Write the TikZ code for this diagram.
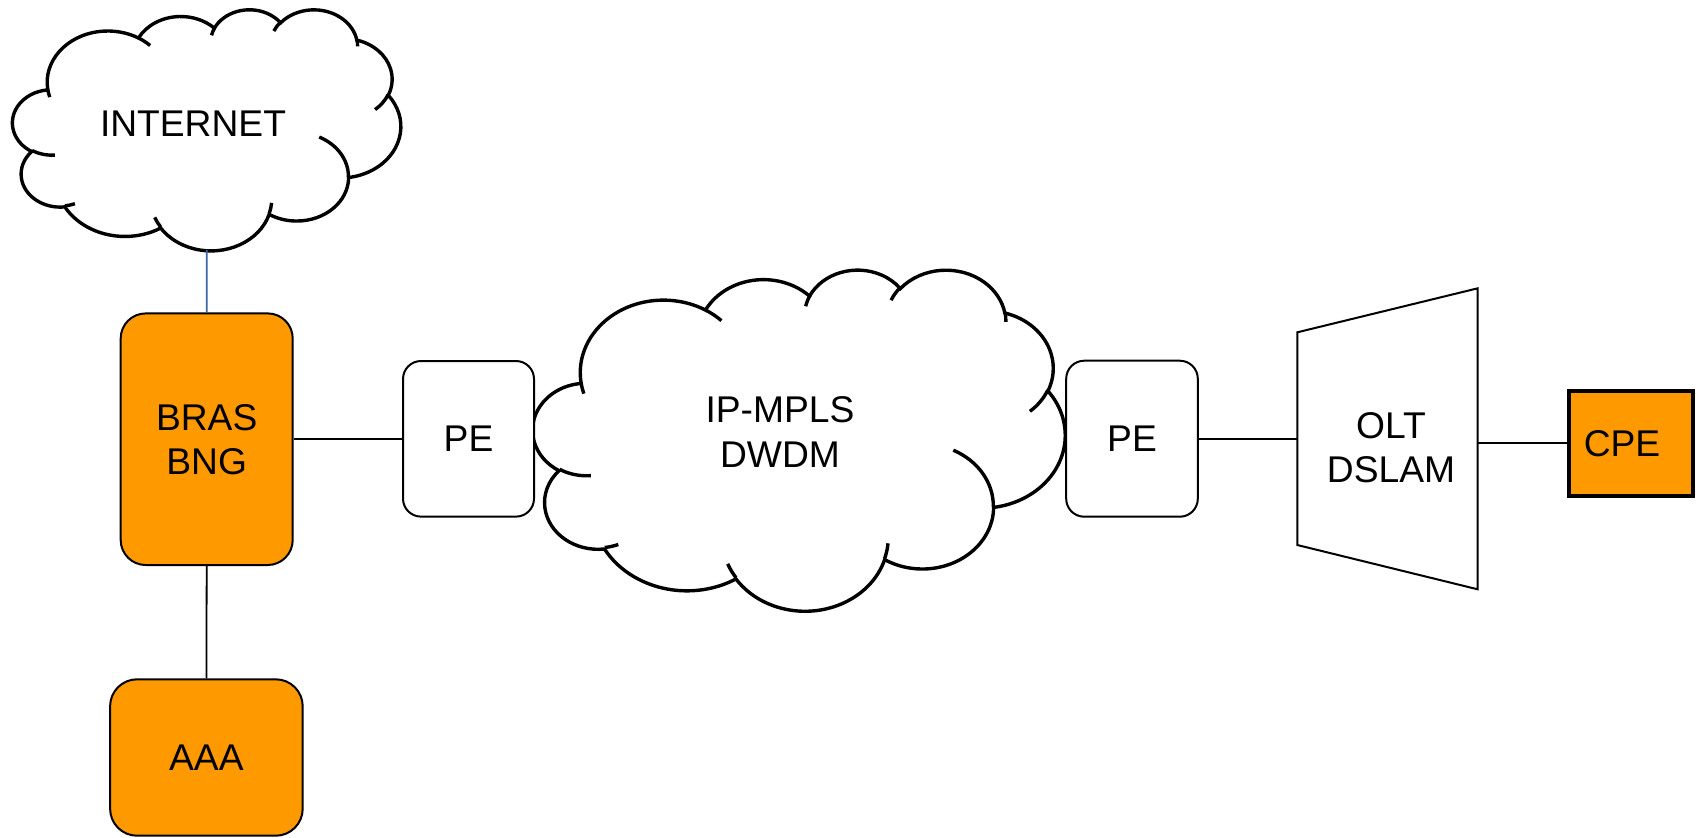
\documentclass[tikz,border=0pt]{standalone}
\usepackage{fontspec}
\setmainfont{Liberation Sans}
\definecolor{orng}{RGB}{255,153,0}
\definecolor{linkblue}{RGB}{60,100,160}

% compute parametric start/end angles of an OOXML arcTo (visual angles)
\newcommand\setarc[5]{%
  \pgfmathsetmacro\tmpa{atan2((#2)*sin(#4),(#3)*cos(#4))-(#4)}%
  \pgfmathsetmacro\tmpa{(#4)+\tmpa-360*round(\tmpa/360)}%
  \pgfmathsetmacro\tmpb{atan2((#2)*sin((#4)+(#5)),(#3)*cos((#4)+(#5)))-((#4)+(#5))}%
  \pgfmathsetmacro\tmpb{(#4)+(#5)+\tmpb-360*round(\tmpb/360)}%
  \expandafter\xdef\csname arcS#1\endcsname{\tmpa}%
  \expandafter\xdef\csname arcE#1\endcsname{\tmpb}%
}

\newcommand\cloudpath{%
  \draw[cloudline, fill=white] (3.900,14.370)
    arc[x radius=6.753,y radius=9.190,start angle=\arcSa,end angle=\arcEa]
    arc[x radius=5.333,y radius=7.267,start angle=\arcSb,end angle=\arcEb]
    arc[x radius=4.365,y radius=5.945,start angle=\arcSc,end angle=\arcEc]
    arc[x radius=4.857,y radius=6.595,start angle=\arcSd,end angle=\arcEd]
    arc[x radius=5.333,y radius=7.273,start angle=\arcSe,end angle=\arcEe]
    arc[x radius=6.775,y radius=9.220,start angle=\arcSf,end angle=\arcEf]
    arc[x radius=5.785,y radius=7.867,start angle=\arcSg,end angle=\arcEg]
    arc[x radius=6.752,y radius=9.215,start angle=\arcSh,end angle=\arcEh]
    arc[x radius=7.720,y radius=10.543,start angle=\arcSi,end angle=\arcEi]
    arc[x radius=4.360,y radius=5.918,start angle=\arcSj,end angle=\arcEj]
    arc[x radius=4.345,y radius=5.945,start angle=\arcSk,end angle=\arcEk]
    -- cycle;
  \draw[cloudline]
    (4.693,26.177) arc[x radius=4.345,y radius=5.945,start angle=\arcSl,end angle=\arcEl]
    (6.928,34.899) arc[x radius=4.360,y radius=5.918,start angle=\arcSm,end angle=\arcEm]
    (16.478,39.090) arc[x radius=6.752,y radius=9.215,start angle=\arcSn,end angle=\arcEn]
    (28.827,34.751) arc[x radius=6.752,y radius=9.215,start angle=\arcSo,end angle=\arcEo]
    (34.129,22.954) arc[x radius=5.785,y radius=7.867,start angle=\arcSp,end angle=\arcEp]
    (41.798,15.354) arc[x radius=5.333,y radius=7.273,start angle=\arcSq,end angle=\arcEq]
    (38.324,5.426) arc[x radius=4.857,y radius=6.595,start angle=\arcSr,end angle=\arcEr]
    (29.078,3.952) arc[x radius=4.857,y radius=6.595,start angle=\arcSs,end angle=\arcEs]
    (22.141,4.720) arc[x radius=4.365,y radius=5.945,start angle=\arcSt,end angle=\arcEt]
    (14.000,5.192) arc[x radius=6.753,y radius=9.190,start angle=\arcSu,end angle=\arcEu]
    (4.127,15.789) arc[x radius=6.753,y radius=9.190,start angle=\arcSv,end angle=\arcEv];
}

\begin{document}
\begin{tikzpicture}[x=0.5pt,y=-0.5pt,
  cloudline/.style={line width=1.7pt, black},
  txt/.style={font=\fontsize{18.6pt}{22pt}\selectfont, align=center, inner sep=0pt},
  box/.style={draw=black, line width=1pt, font=\fontsize{18.6pt}{22pt}\selectfont, align=center, inner sep=0pt},
  orangebox/.style={box, fill=orng},
  conn/.style={line width=0.9pt, black},
  bluelink/.style={line width=0.9pt, linkblue}]
\useasboundingbox (0,0) rectangle (1703,837);

\setarc{a}{6.753}{9.190}{-190.48748}{123.78053}
\setarc{b}{5.333}{7.267}{-144.10238}{89.94523}
\setarc{c}{4.365}{5.945}{-145.80792}{99.72302}
\setarc{d}{4.857}{6.595}{-130.98607}{117.24173}
\setarc{e}{5.333}{7.273}{-78.70888}{109.02692}
\setarc{f}{6.775}{9.220}{-46.26725}{130.26900}
\setarc{g}{5.785}{7.867}{0.62502}{114.03333}
\setarc{h}{6.752}{9.215}{22.45160}{115.17255}
\setarc{i}{7.720}{10.543}{66.24263}{75.71102}
\setarc{j}{4.360}{5.918}{-274.94208}{146.73557}
\setarc{k}{4.345}{5.945}{-246.82850}{152.51885}
\setarc{l}{4.345}{5.945}{86.74200}{26.42950}
\setarc{m}{4.360}{5.918}{73.61047}{11.44747}
\setarc{n}{6.752}{9.215}{137.62415}{14.08110}
\setarc{o}{6.752}{9.215}{6.45327}{15.99835}
\setarc{p}{5.785}{7.867}{-70.29235}{70.91737}
\setarc{q}{5.333}{7.273}{30.31803}{27.75150}
\setarc{r}{4.857}{6.595}{-13.74433}{14.85890}
\setarc{s}{4.857}{6.595}{-149.18145}{18.19537}
\setarc{t}{4.365}{5.945}{-163.49427}{17.68635}
\setarc{u}{6.753}{9.190}{-66.70695}{12.31935}
\setarc{v}{6.753}{9.190}{157.65435}{11.85817}

% INTERNET cloud
\begin{scope}[shift={(12.7,9)}, x=4.4907pt, y=-2.7894pt]
  \cloudpath
\end{scope}
\node[txt] (inettxt) at (193,124) {INTERNET};
\coordinate (inetbot) at (206.8,250);

% IP-MPLS cloud
\begin{scope}[shift={(533,269)}, x=6.1574pt, y=-3.9468pt]
  \cloudpath
\end{scope}
\node[txt] (mplstxt) at (780,432) {IP-MPLS\\DWDM};

% boxes
\node[orangebox, rounded corners=12.5pt, minimum width=86pt, minimum height=125.8pt] (bras) at (206.7,439.2) {BRAS\\BNG};
\node[orangebox, rounded corners=13.5pt, minimum width=96.3pt, minimum height=78.2pt] (aaa) at (206.4,757.5) {AAA};
\node[box, fill=white, rounded corners=9pt, minimum width=65.5pt, minimum height=77.8pt] (pe1) at (468.5,438.8) {PE};
\node[box, fill=white, rounded corners=9pt, minimum width=65.8pt, minimum height=78pt] (pe2) at (1132,438.7) {PE};
\node[orangebox, line width=2pt, minimum width=61.7pt, minimum height=52.6pt] (cpe) at (1631,443.3) {\kern-9pt CPE};

% OLT / DSLAM trapezoid
\coordinate (oltTL) at (1297.3,332.3);
\coordinate (oltTR) at (1477.7,288.3);
\coordinate (oltBR) at (1477.7,589.3);
\coordinate (oltBL) at (1297.3,545);
\draw[line width=1pt, fill=white] (oltTL) -- (oltTR) -- (oltBR) -- (oltBL) -- cycle;
\coordinate (oltin) at (1297.3,438.7);
\coordinate (oltout) at (1477.7,443.3);
\node[txt] (olt) at (1391,447.5) {OLT\\DSLAM};

% connectors
\draw[bluelink] (inetbot) -- (bras.north);
\draw[conn] (bras.south) -- (aaa.north);
\draw[conn] (bras.east) -- (bras.east -| pe1.west);
\draw[conn] (pe2.east) -- (oltin);
\draw[conn] (oltout) -- (cpe.west);
\end{tikzpicture}
\end{document}
